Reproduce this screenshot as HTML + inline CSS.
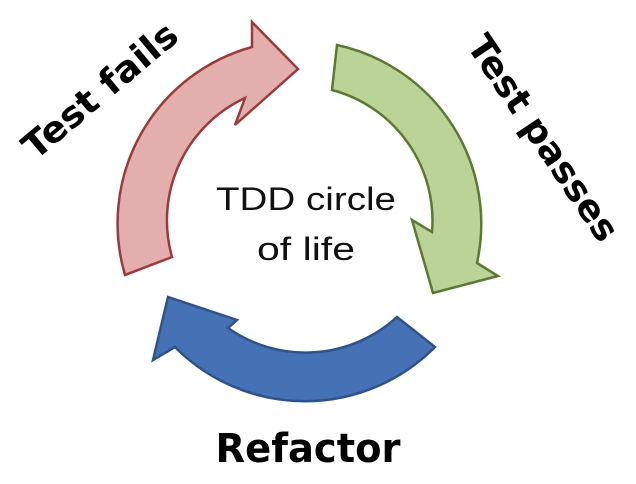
<!DOCTYPE html>
<html><head><meta charset="utf-8"><style>
html,body{margin:0;padding:0;background:#fff;width:636px;height:484px;overflow:hidden}
svg{display:block}
.h{font-family:"DejaVu Sans","Liberation Sans",sans-serif;font-weight:bold;fill:#000}
</style></head><body>
<svg width="636" height="484" viewBox="0 0 636 484">
<path d="M125,275 A183,183 0 0 1 252,47 L252,22 L298,69 L235,125 L245,98 A135,135 0 0 0 172,257 Z" fill="#e3aeae" stroke="#9c3a3a" stroke-width="2.5"/>
<path d="M337,45 A183,183 0 0 1 477,263 L498,276 L433,293 L412,220 L432,232 A135,135 0 0 0 332,90 Z" fill="#bcd397" stroke="#5a7a32" stroke-width="2.5"/>
<path d="M435,347 A183,183 0 0 1 175,347 L153,360 L168,297 L237,320 L228,328 A135,135 0 0 0 397,317 Z" fill="#4472b5" stroke="#2f528a" stroke-width="2.5"/>
<text x="306" y="210" text-anchor="middle" font-family="'Liberation Sans','DejaVu Sans',sans-serif" font-size="32" fill="#111" textLength="180" lengthAdjust="spacingAndGlyphs">TDD circle</text>
<text x="306" y="260" text-anchor="middle" font-family="'Liberation Sans','DejaVu Sans',sans-serif" font-size="32" fill="#111" textLength="98" lengthAdjust="spacingAndGlyphs">of life</text>
<text class="h" font-size="36" text-anchor="middle" textLength="190" lengthAdjust="spacingAndGlyphs" transform="translate(108,100) rotate(-40)">Test fails</text>
<text class="h" font-size="36" text-anchor="middle" textLength="240" lengthAdjust="spacingAndGlyphs" transform="translate(533,145) rotate(56)">Test passes</text>
<text class="h" x="308" y="462" font-size="40" text-anchor="middle" textLength="185" lengthAdjust="spacingAndGlyphs">Refactor</text>
</svg>
</body></html>
